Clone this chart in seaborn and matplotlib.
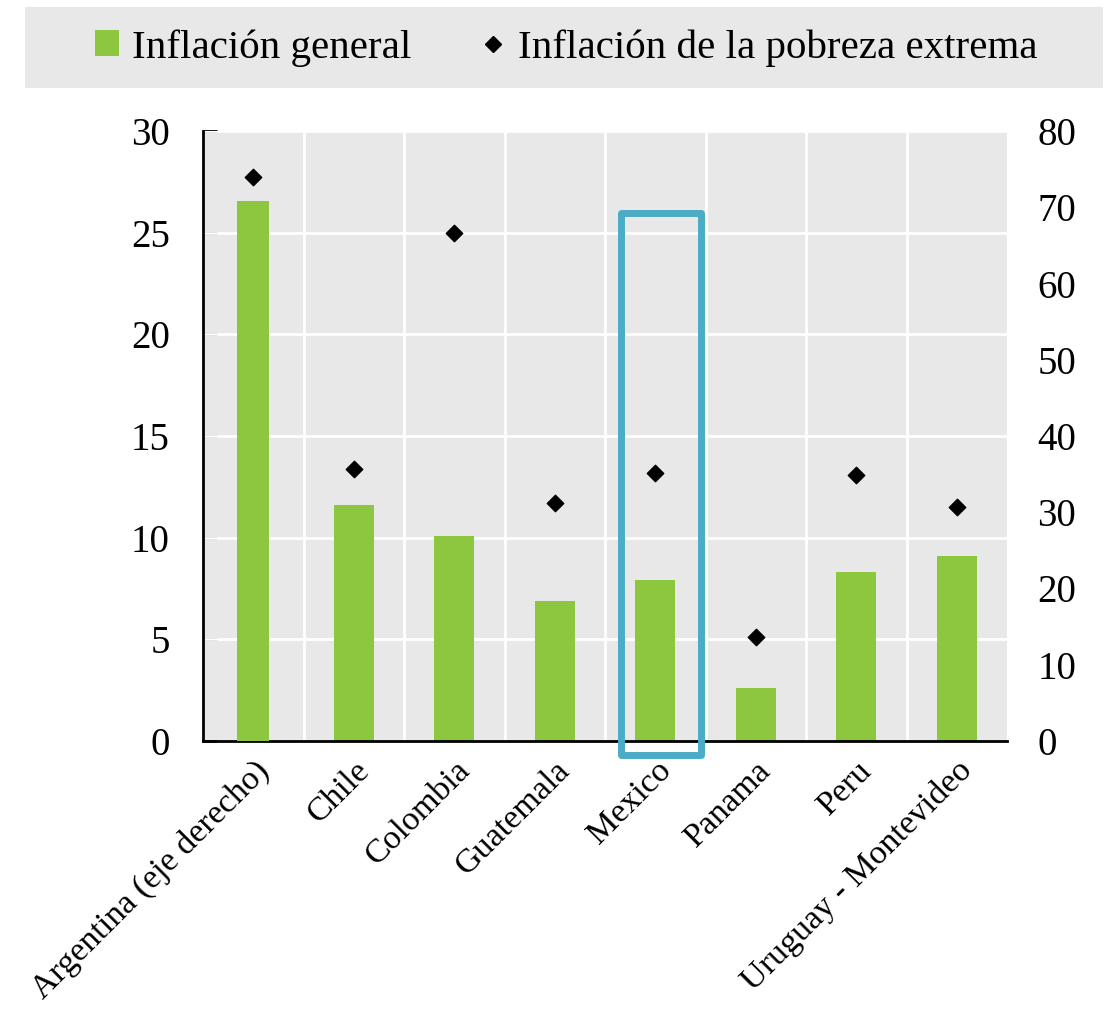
import matplotlib
matplotlib.use("Agg")
import matplotlib.pyplot as plt
from matplotlib.patches import Rectangle, Patch
from matplotlib.lines import Line2D
import seaborn as sns
import numpy as np
import pandas as pd

sns.set_theme(style="white")
plt.rcParams['font.family'] = ['Liberation Serif', 'DejaVu Serif']
plt.rcParams['text.color'] = 'black'
plt.rcParams['xtick.color'] = 'black'
plt.rcParams['ytick.color'] = 'black'

countries = ["Argentina (eje derecho)", "Chile", "Colombia", "Guatemala",
             "Mexico", "Panama", "Peru", "Uruguay - Montevideo"]
# Argentina values are read on the right axis, the rest on the left axis
inflacion_general = [70.8, 11.6, 10.1, 6.9, 7.9, 2.6, 8.3, 9.1]
inflacion_pobreza = [74.0, 13.4, 25.0, 11.7, 13.2, 5.1, 13.1, 11.5]

green = "#8dc63f"
bg = "#e8e8e8"

df = pd.DataFrame({"pais": countries, "general": inflacion_general,
                   "pobreza": inflacion_pobreza, "pos": np.arange(len(countries))})
left = df.iloc[1:]
arg = df.iloc[:1]

fig = plt.figure(figsize=(11.09, 10.09), dpi=100)
ax = fig.add_axes([203/1109, 1-741/1009, 804/1109, 610/1009])
ax2 = ax.twinx()

ax.set_facecolor(bg)
sns.barplot(data=left, x="pais", y="general", order=countries, color=green,
            width=0.4, saturation=1, linewidth=0, ax=ax, zorder=2)
sns.barplot(data=arg, x="pais", y="general", order=countries, color=green,
            width=0.32, saturation=1, linewidth=0, ax=ax2, zorder=2)
ax.scatter(left["pos"], left["pobreza"], marker="D", s=70, color="black", zorder=3)
ax2.scatter(arg["pos"], arg["pobreza"], marker="D", s=70, color="black", zorder=3)

n = len(countries)
ax.set_xlim(-0.5, n - 0.5)
ax.set_ylim(0, 30)
ax2.set_ylim(0, 80)
ax.set_yticks(range(0, 31, 5))
ax2.set_yticks(range(0, 81, 10))

for y in range(5, 31, 5):
    ax.axhline(y, color="white", lw=2, zorder=1)
for x in np.arange(0.5, n - 0.5, 1):
    ax.axvline(x, color="white", lw=2, zorder=1)

for a in (ax, ax2):
    for s in a.spines.values():
        s.set_visible(False)
ax.spines["left"].set_visible(True)
ax.spines["bottom"].set_visible(True)
ax.spines["left"].set_color("black")
ax.spines["bottom"].set_color("black")
ax.spines["left"].set_linewidth(2)
ax.spines["bottom"].set_linewidth(2)

ax.set_xlabel("")
ax.set_ylabel("")
ax2.set_xlabel("")
ax2.set_ylabel("")

ax.set_xticks(np.arange(n))
ax.set_xticklabels(countries, rotation=45, ha="right", rotation_mode="anchor", fontsize=24.5)
ax.tick_params(axis="x", length=0, pad=10)
ax.set_xticks(np.arange(0.5, n, 1), minor=True)
ax.tick_params(axis="x", which="minor", direction="in", length=8, width=2, color="black")
ax.tick_params(axis="y", direction="in", length=10, width=2, color="black",
               labelsize=28, pad=24, left=True)
ax2.tick_params(axis="y", length=0, labelsize=28, pad=22, right=False)

# highlight box around Mexico
ax2.add_patch(Rectangle((3.66, -1.8), 0.80, 71.0, fill=False, edgecolor="#4bacc6",
                        lw=5, clip_on=False, zorder=5, joinstyle="round"))

# legend band
fig.patches.append(Rectangle((25/1109, 1-88/1009), 1078/1109, 81/1009,
                             transform=fig.transFigure, facecolor=bg, edgecolor="none", zorder=0))
handles = [Patch(facecolor=green, edgecolor="none"),
           Line2D([], [], marker="D", color="black", linestyle="none", markersize=8)]
fig.legend(handles, ["Inflación general", "Inflación de la pobreza extrema"],
           loc="center", bbox_to_anchor=(566/1109, 1-48/1009), ncol=2, frameon=False,
           fontsize=29.5, handlelength=0.6, handleheight=0.6, handletextpad=0.3,
           columnspacing=1.7)

fig.savefig("out.png", dpi=100)
